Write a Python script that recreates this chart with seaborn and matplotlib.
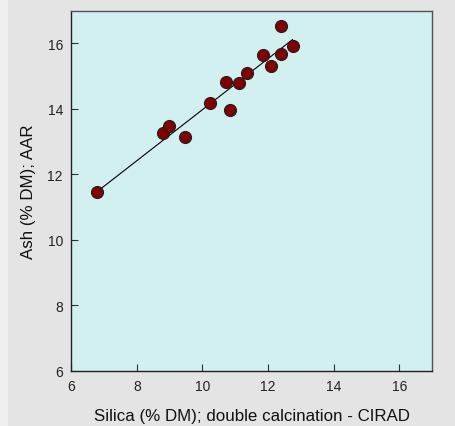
import numpy as np
import pandas as pd
import matplotlib
matplotlib.use("Agg")
import matplotlib.pyplot as plt
from matplotlib.patches import Rectangle
import seaborn as sns

silica = [6.79, 8.80, 8.97, 9.48, 10.23, 10.73, 10.85, 11.10, 11.36, 11.84, 12.09, 12.39, 12.40, 12.75]
ash = [11.45, 13.25, 13.46, 13.15, 14.19, 14.81, 13.96, 14.79, 15.10, 15.64, 15.31, 16.54, 15.68, 15.93]
xticks = [6, 8, 10, 12, 14, 16]
yticks = [6, 8, 10, 12, 14, 16]

df = pd.DataFrame({"silica": silica, "ash": ash})

sns.set_style("white")
plt.rcParams['font.family'] = ['Liberation Sans', 'DejaVu Sans']

fig = plt.figure(figsize=(4.56, 4.27), dpi=100, facecolor="#e4e4e4")
fig.patches.append(Rectangle((0, 0), 8 / 456, 1, transform=fig.transFigure,
                             facecolor="#efefef", edgecolor="none", zorder=-1))
ax = fig.add_axes([71.3 / 456, 1 - 371.7 / 427, (432 - 71.3) / 456, (371.7 - 11.6) / 427])
ax.set_facecolor("#d3f0f0")

sns.regplot(data=df, x="silica", y="ash", ax=ax, ci=None, scatter=False,
            line_kws=dict(color="black", lw=0.8))
sns.scatterplot(data=df, x="silica", y="ash", ax=ax, color="#800000",
                edgecolor="#202020", linewidth=0.8, s=75, zorder=3)

ax.set_xlim(6, 17)
ax.set_ylim(6, 17)
ax.set_xticks(xticks)
ax.set_yticks(yticks)
ax.tick_params(direction="in", length=5, width=0.8, color="#303030",
               labelsize=10, labelcolor="#222222", pad=6)
ax.tick_params(top=False, right=False, bottom=True, left=True)
for side in ["left", "bottom"]:
    ax.spines[side].set_color("#202020")
    ax.spines[side].set_linewidth(1.0)
for side in ["top", "right"]:
    ax.spines[side].set_color("#555555")
    ax.spines[side].set_linewidth(1.0)

ax.set_xlabel("Silica (% DM); double calcination - CIRAD", fontsize=12.2, labelpad=11, color="#111111")
ax.set_ylabel("Ash (% DM); AAR", fontsize=12.2, labelpad=8, color="#111111")

fig.savefig("out.png", dpi=100, facecolor=fig.get_facecolor())
